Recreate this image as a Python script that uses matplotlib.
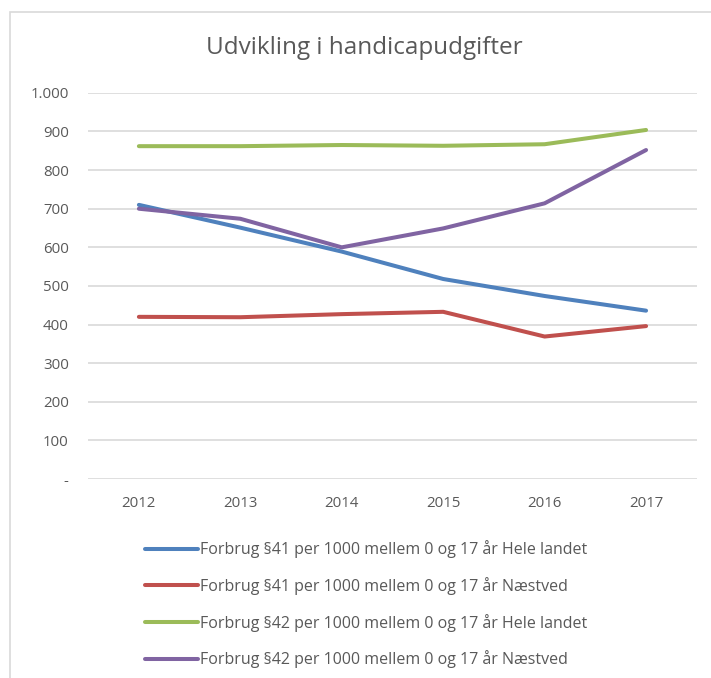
import matplotlib.pyplot as plt
from matplotlib.patches import Rectangle

plt.rcParams["font.family"] = ["Open Sans", "DejaVu Sans"]

years = ["2012", "2013", "2014", "2015", "2016", "2017"]
s41_land = [710, 651, 589, 518, 474, 436]
s41_naestved = [420, 419, 427, 433, 369, 396]
s42_land = [862, 862, 865, 863, 867, 904]
s42_naestved = [700, 674, 600, 649, 714, 852]

labels = [
    "Forbrug §41 per 1000 mellem 0 og 17 år Hele landet",
    "Forbrug §41 per 1000 mellem 0 og 17 år Næstved",
    "Forbrug §42 per 1000 mellem 0 og 17 år Hele landet",
    "Forbrug §42 per 1000 mellem 0 og 17 år Næstved",
]
colors = ["#4F81BD", "#C0504D", "#9BBB59", "#8064A2"]
yticks = [0, 100, 200, 300, 400, 500, 600, 700, 800, 900, 1000]
ytick_labels = ["-", "100", "200", "300", "400", "500", "600", "700", "800", "900", "1.000"]

fig = plt.figure(figsize=(7.11, 6.78), dpi=100)

# chart frame (cut off at right and bottom like the screenshot)
fig.patches.append(Rectangle((10 / 711, -0.1), 1.2, 0.982 + 0.1, transform=fig.transFigure,
                             fill=False, edgecolor="#D9D9D9", linewidth=1.2))

ax = fig.add_axes([0.124, 0.2935, 0.856, 0.5695])
x = range(len(years))
for vals, c, lab in zip([s41_land, s41_naestved, s42_land, s42_naestved], colors, labels):
    ax.plot(x, vals, color=c, linewidth=2.9, solid_capstyle="round", label=lab)

ax.set_xlim(-0.5, len(years) - 0.5)
ax.set_ylim(0, 1000)
ax.set_xticks(list(x))
ax.set_xticklabels(years)
ax.set_yticks(yticks)
ax.set_yticklabels(ytick_labels)
ax.tick_params(length=0, labelsize=10.8, colors="#595959")
ax.tick_params(axis="y", pad=14)
ax.tick_params(axis="x", pad=12)
ax.grid(axis="y", color="#D9D9D9", linewidth=1.2)
ax.set_axisbelow(True)
for s in ax.spines.values():
    s.set_visible(False)

fig.text(0.513, 0.929, "Udvikling i handicapudgifter", ha="center", va="center",
         fontsize=17.5, color="#595959")

fig.legend(loc="upper left", bbox_to_anchor=(0.204, 0.203), frameon=False,
           fontsize=11.5, handlelength=3.3, handletextpad=0.12, labelspacing=1.17,
           borderpad=0, borderaxespad=0, labelcolor="#595959")

fig.savefig("out.png", dpi=100)
